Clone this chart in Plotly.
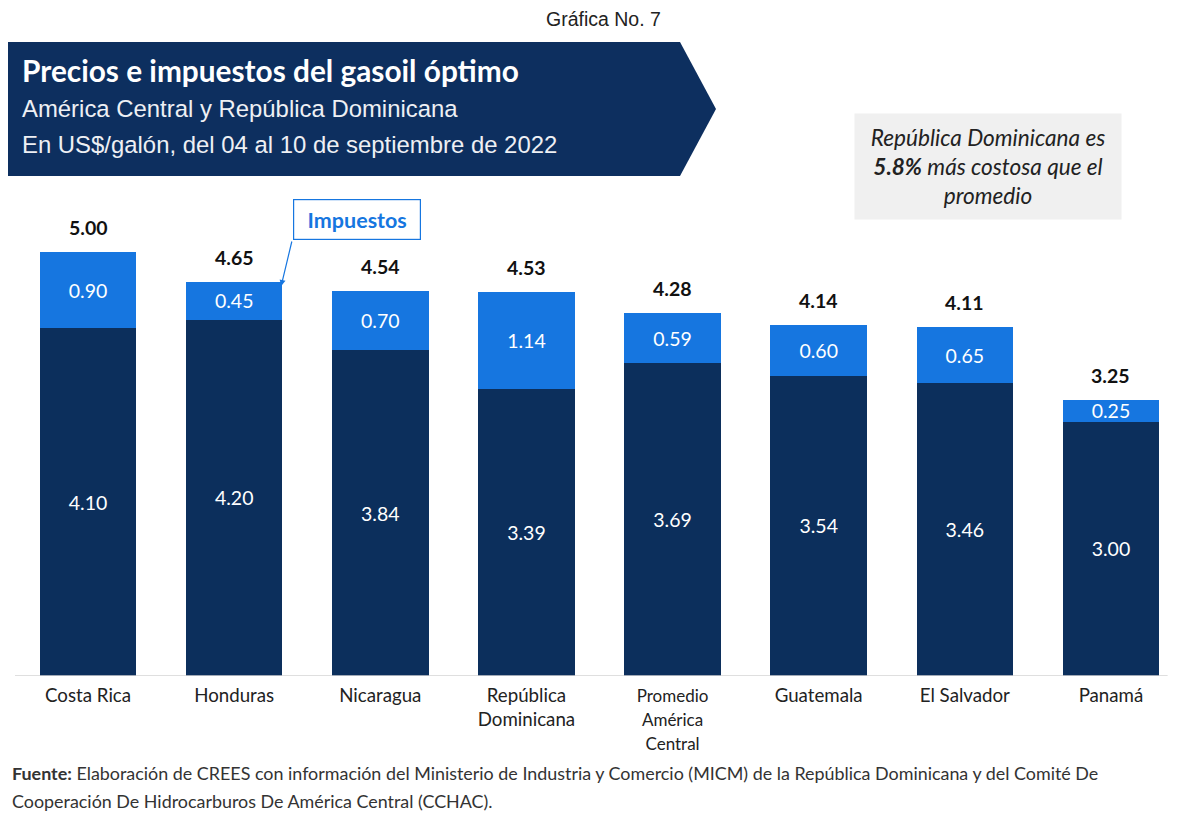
import plotly.graph_objects as go

categories = ["Costa Rica", "Honduras", "Nicaragua", "República<br>Dominicana",
              "<span style='font-size:17px'>Promedio<br>América<br>Central</span>",
              "Guatemala", "El Salvador", "Panamá"]
base_price = [4.10, 4.20, 3.84, 3.39, 3.69, 3.54, 3.46, 3.00]
taxes = [0.90, 0.45, 0.70, 1.14, 0.59, 0.60, 0.65, 0.25]
totals = [5.00, 4.65, 4.54, 4.53, 4.28, 4.14, 4.11, 3.25]

NAVY = "#0c2f5c"
BLUE = "#1676e0"
FONT = "Lato"

x = list(range(len(categories)))

fig = go.Figure()
fig.add_trace(go.Bar(
    x=x, y=base_price, marker=dict(color=NAVY, line=dict(width=0)),
    text=[f"{v:.2f}" for v in base_price], textposition="inside",
    insidetextanchor="middle", constraintext="none",
    textfont=dict(family=FONT, size=19.5, color="white"), hoverinfo="skip"))
fig.add_trace(go.Bar(
    x=x, y=taxes, marker=dict(color=BLUE, line=dict(width=0)),
    text=[f"{v:.2f}" for v in taxes], textposition="inside",
    insidetextanchor="middle", constraintext="none",
    textfont=dict(family=FONT, size=19.5, color="white"), hoverinfo="skip"))

fig.update_layout(
    width=1200, height=820, barmode="stack", bargap=0.34, showlegend=False,
    plot_bgcolor="white", paper_bgcolor="white",
    margin=dict(l=7, r=24, t=168, b=152),
    xaxis=dict(tickmode="array", tickvals=x, ticktext=categories, range=[-0.5, 7.5],
               showgrid=False, zeroline=False, showline=False, ticks="",
               ticklabelstandoff=6,
               tickfont=dict(family=FONT, size=18.7, color="#222")),
    yaxis=dict(range=[0, 5.896], visible=False, showgrid=False, zeroline=False),
    font=dict(family=FONT),
)

# baseline
fig.add_shape(type="line", xref="paper", yref="y", x0=0, x1=0.986, y0=0, y1=0,
              line=dict(color="#d4d4d4", width=1.5), layer="above")

def px(xp):
    return (xp - 15) / 1169
def py(yp):
    return (676 - yp) / 500

banner = f"M {px(-10)} {py(42)} L {px(680)} {py(42)} L {px(716)} {py(109)} L {px(680)} {py(176)} L {px(-10)} {py(176)} Z"
fig.add_shape(type="path", xref="paper", yref="paper", path=banner,
              fillcolor="#0d2f5f", line=dict(width=0), layer="below")

ann = []
ann.append(dict(x=20, y=70, text="<b>Precios e impuestos del gasoil óptimo</b>",
                font=dict(family=FONT, size=29.8, color="white"), xanchor="left", yanchor="middle", showarrow=False))
ann.append(dict(x=20, y=108, text="América Central y República Dominicana",
                font=dict(family="Liberation Sans", size=23.9, color="#eef0f4"), xanchor="left", yanchor="middle", showarrow=False))
ann.append(dict(x=20, y=145, text="En US$/galón, del 04 al 10 de septiembre de 2022",
                font=dict(family="Liberation Sans", size=23.9, color="#eef0f4"), xanchor="left", yanchor="middle", showarrow=False))
ann.append(dict(x=603, y=19, text="Gráfica No. 7",
                font=dict(family="Liberation Sans", size=19.5, color="#222"), xanchor="center", yanchor="middle", showarrow=False))
# note box
ann.append(dict(x=988, y=166, text="<i>República Dominicana es<br><b>5.8%</b> más costosa que el<br>promedio</i>",
                font=dict(family=FONT, size=22.6, color="#222"), xanchor="center", yanchor="middle", showarrow=False,
                align="center", bgcolor="#f0f0f0", width=262, height=101, borderpad=2))
# footer
ann.append(dict(x=10, y=773, text="<b>Fuente:</b> Elaboración de CREES con información del Ministerio de Industria y Comercio (MICM) de la República Dominicana y del Comité De",
                font=dict(family=FONT, size=17.9, color="#333"), xanchor="left", yanchor="middle", showarrow=False))
ann.append(dict(x=10, y=801, text="Cooperación De Hidrocarburos De América Central (CCHAC).",
                font=dict(family=FONT, size=17.9, color="#333"), xanchor="left", yanchor="middle", showarrow=False))

for a in ann:
    a["xref"] = "paper"; a["yref"] = "paper"
    a["x"] = px(a["x"]); a["y"] = py(a["y"])

# totals above bars
for i, t in enumerate(totals):
    ann.append(dict(xref="x", yref="y", x=x[i], y=t, text=f"<b>{t:.2f}</b>", showarrow=False,
                    yanchor="bottom", yshift=11, font=dict(family=FONT, size=19.5, color="#111")))

# Impuestos label box
ann.append(dict(xref="paper", yref="paper", x=px(357), y=py(219.5), text="<b>Impuestos</b>",
                font=dict(family=FONT, size=21.5, color=BLUE), showarrow=False,
                bgcolor="white", bordercolor=BLUE, borderwidth=1.2, width=124, height=37,
                xanchor="center", yanchor="middle"))
# arrow to Honduras taxes
ann.append(dict(xref="x", yref="y", x=1 + (282 - 235) / 146.14, y=(676 - 286) / 84.8,
                text="", showarrow=True, arrowhead=2, arrowsize=1, arrowwidth=1.2,
                arrowcolor=BLUE, axref="pixel", ayref="pixel", ax=11, ay=-46, standoff=0, startstandoff=0))

fig.update_layout(annotations=ann)
fig.write_html("out.html")
